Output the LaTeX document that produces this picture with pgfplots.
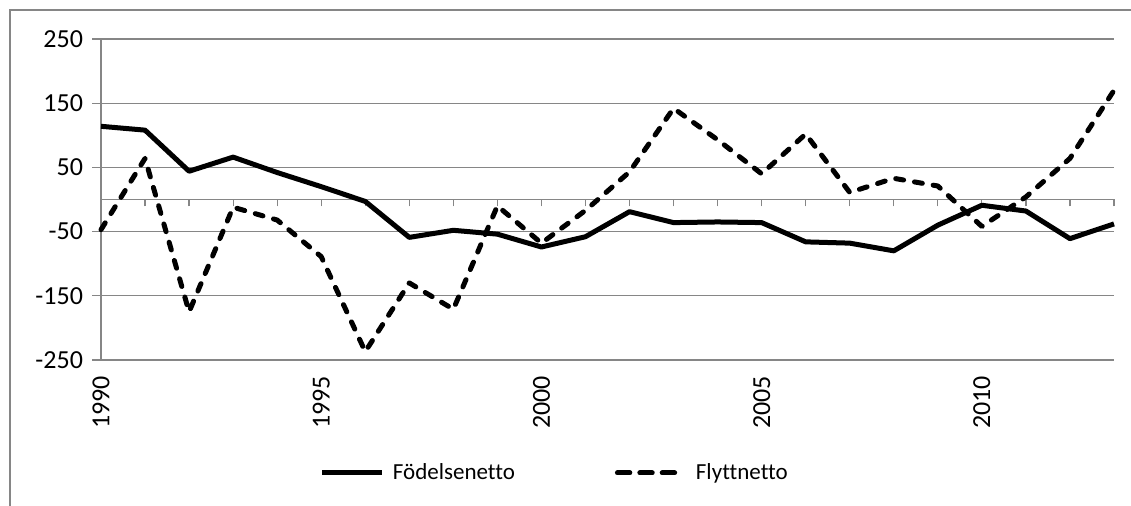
\documentclass[border=0pt]{standalone}
\usepackage{fontspec}
\setmainfont{Carlito}[Ligatures=NoCommon]
\usepackage{pgfplots}
\pgfplotsset{compat=1.18}
\definecolor{gridgray}{RGB}{134,134,134}
\begin{document}
\begin{tikzpicture}
\path[use as bounding box] (0,0) rectangle (565.5pt,253pt);
\draw[gridgray, line width=0.6pt] (5pt,0) -- (5pt,248pt) -- (566pt,248pt);
% zero line with yearly ticks
\begin{axis}[
 at={(50.5pt,73pt)}, anchor=south west,
 scale only axis, width=506.5pt, height=160.5pt,
 xmin=1990, xmax=2013, ymin=-250, ymax=250,
 axis x line*=middle, axis y line=none,
 x axis line style={gridgray, line width=0.6pt, -},
 xtick={1990,1991,...,2013}, xticklabels={},
 ytick=\empty,
 tick align=center, major tick length=3.5pt,
 x tick style={gridgray, line width=0.6pt, yshift=-1.75pt},
]
\end{axis}
\begin{axis}[
 at={(50.5pt,73pt)}, anchor=south west,
 scale only axis, width=506.5pt, height=160.5pt,
 xmin=1990, xmax=2013, ymin=-250, ymax=250,
 axis x line*=bottom, axis y line*=left,
 axis line style={gridgray, line width=0.6pt, -},
 xtick={1990,1995,2000,2005,2010},
 x tick style={draw=none},
 xticklabel style={rotate=90, anchor=east, /pgf/number format/1000 sep={}},
 ytick={-250,-150,-50,50,150,250},
 y tick style={gridgray, line width=0.6pt},
 tick align=outside, major tick length=4.5pt,
 ymajorgrids, grid style={gridgray, line width=0.6pt},
 /pgf/number format/assume math mode=true,
 ticklabel style={font=\fontsize{13}{15}\selectfont},
 yticklabel style={xshift=-1pt},
 clip=false,
 legend columns=2,
 legend style={at={(0.449,-0.352)}, anchor=center, draw=none, fill=none,
   font=\fontsize{11.5}{14}\selectfont,
   /tikz/every even column/.append style={column sep=48pt}},
 legend image code/.code={\draw[#1] (0.5pt,0pt) -- (30.5pt,0pt);},
]
\addplot[black, line width=2.5pt, line join=round] coordinates {
(1990,114) (1991,108) (1992,44) (1993,66) (1994,42) (1995,20) (1996,-3)
(1997,-59) (1998,-48) (1999,-54) (2000,-74) (2001,-58) (2002,-19)
(2003,-36) (2004,-35) (2005,-36) (2006,-66) (2007,-68) (2008,-80)
(2009,-40) (2010,-9) (2011,-18) (2012,-61) (2013,-38)};
\addlegendentry{\hspace{2pt}Födelsenetto}
\addplot[black, line width=2.5pt, dash pattern=on 4pt off 5.5pt, line cap=round, line join=round,
  legend image post style={dash pattern=on 6.2pt off 5pt}] coordinates {
(1990,-47) (1991,64) (1992,-175) (1993,-12) (1994,-32) (1995,-89) (1996,-237)
(1997,-130) (1998,-171) (1999,-10) (2000,-68) (2001,-17) (2002,43)
(2003,142) (2004,93) (2005,40) (2006,102) (2007,11) (2008,33)
(2009,21) (2010,-42) (2011,4) (2012,64) (2013,170)};
\addlegendentry{\hspace{6pt}Flyttnetto}
\end{axis}
\end{tikzpicture}
\end{document}
